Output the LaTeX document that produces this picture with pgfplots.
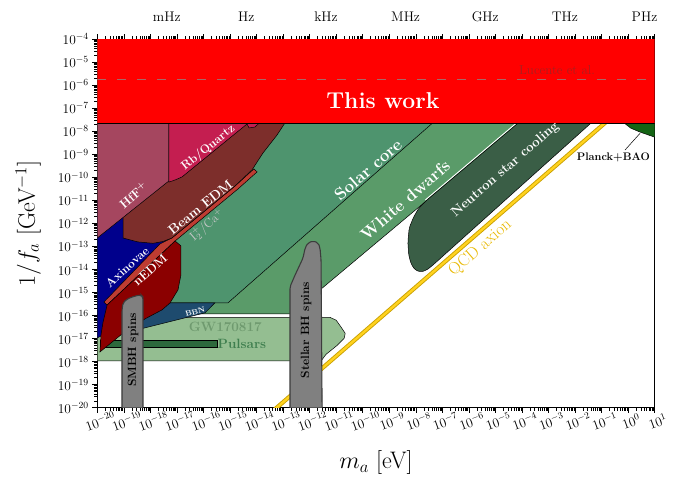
\RequirePackage{fix-cm}
\documentclass[border=0pt]{standalone}
\usepackage{pgfplots}
\pgfplotsset{compat=1.18}

\definecolor{thiswork}{HTML}{FF0000}
\definecolor{hff}{HTML}{A5465F}
\definecolor{rbq}{HTML}{C41E50}
\definecolor{beam}{HTML}{7D2E2B}
\definecolor{ica}{HTML}{BE3C32}
\definecolor{axn}{HTML}{00008C}
\definecolor{nedm}{HTML}{8B0000}
\definecolor{solar}{HTML}{4E946E}
\definecolor{wd}{HTML}{5A9B69}
\definecolor{ns}{HTML}{3A5E46}
\definecolor{bbn}{HTML}{1E4B6E}
\definecolor{gw}{HTML}{94BE91}
\definecolor{psr}{HTML}{2D693C}
\definecolor{bh}{HTML}{808080}
\definecolor{bhedge}{HTML}{3C3C3C}
\definecolor{planck}{HTML}{146414}
\definecolor{qcdin}{HTML}{FFD21E}
\definecolor{qcdout}{HTML}{C9A000}
\definecolor{qcdtxt}{HTML}{E8B800}
\definecolor{lucline}{HTML}{A86868}
\definecolor{luctxt}{HTML}{A82020}
\definecolor{gwtxt}{HTML}{6F9A6F}
\definecolor{psrtxt}{HTML}{3F7F4F}
\definecolor{icatxt}{HTML}{C8C8C8}

% axes are in log10 units; minor ticks at log10(2..9)
\def\mx{-30}
\foreach \dd in {-20,...,0}{\foreach \mm in {0.30103,0.47712,0.60206,0.69897,0.77815,0.84510,0.90309,0.95424}{%
  \pgfmathsetmacro\vv{\dd+\mm}\xdef\mx{\mx,\vv}}}
\def\my{-30}
\foreach \dd in {-20,...,-5}{\foreach \mm in {0.30103,0.47712,0.60206,0.69897,0.77815,0.84510,0.90309,0.95424}{%
  \pgfmathsetmacro\vv{\dd+\mm}\xdef\my{\my,\vv}}}

\newcommand\fs[1]{\fontsize{#1}{#1}\selectfont}
\tikzset{freq/.style={anchor=base, font=\fs{14}, yshift=17.6bp}}

\begin{document}
\begin{tikzpicture}
\begin{axis}[
  name=ax,
  scale only axis,
  width=557.4bp, height=368.4bp,
  xmin=-20, xmax=1, ymin=-20, ymax=-4,
  clip mode=individual,
  xtick={-20,...,1}, ytick={-20,...,-4},
  minor xtick/.expanded=\mx, minor ytick/.expanded=\my,
  xtick pos=both, ytick pos=left, xticklabel pos=left,
  tick align=outside,
  major tick length=5bp, minor tick length=2.8bp,
  every tick/.style={black, line width=0.5pt},
  axis line style={line width=1.1pt},
  xticklabel={$10^{\pgfmathprintnumber{\tick}}$},
  yticklabel={$10^{\pgfmathprintnumber{\tick}}$},
  tick label style={font=\fs{13.5}},
  xticklabel style={rotate=20, anchor=north},
  xlabel={$m_a$ [eV]}, ylabel={$1/f_a$ [GeV$^{-1}$]},
  label style={font=\fs{24}},
  xlabel style={at={(axis description cs:0.5,-0.149)}, anchor=center},
  ylabel style={at={(axis description cs:-0.124,0.5)}, anchor=center},
  region/.style={draw=black, line width=0.5pt},
]

% White dwarfs
\addplot[region, fill=wd] table[row sep=\\]{x y\\ -20 -15.93\\ -12.69 -15.93\\ -0.34 -4\\ -20 -4\\} -- cycle;
% Solar core
\addplot[region, fill=solar] table[row sep=\\]{x y\\ -20 -15.45\\ -15.08 -15.45\\ -3.78 -4\\ -20 -4\\} -- cycle;
% Neutron star cooling
\addplot[white, line width=1pt] coordinates {(-2.47,-6) (-4.25,-7.68) (-7.64,-10.98)};
\addplot[region, fill=ns, rounded corners=2bp] table[row sep=\\]{x y\\
 -2.41 -6\\ -4.19 -7.68\\ -7.58 -10.98\\ -7.90 -11.35\\ -8.10 -11.76\\ -8.25 -12.20\\
 -8.30 -12.80\\ -8.27 -13.35\\ -8.18 -13.75\\ -8.02 -14.03\\ -7.80 -14.10\\ -7.60 -14.03\\
 -7.35 -13.80\\ -1.44 -7.68\\ 0.20 -6\\} -- cycle;
% QCD axion
\addplot[qcdout, line width=4.2pt] coordinates {(-13.40,-20.16) (-0.40,-7.16)};
\addplot[qcdin, line width=2.4pt] coordinates {(-13.40,-20.16) (-0.40,-7.16)};
% Planck+BAO
\addplot[region, fill=planck] table[row sep=\\]{x y\\ -0.19 -7.60\\ 0.10 -7.86\\ 0.45 -8.03\\ 0.75 -8.15\\ 1.05 -8.27\\ 1.05 -7.60\\} -- cycle;
% GW170817
\addplot[region, fill=gw] table[row sep=\\]{x y\\
 -20 -16.08\\ -11.23 -16.08\\ -11.00 -16.20\\ -10.81 -16.51\\ -10.66 -16.77\\ -10.70 -16.99\\
 -10.96 -17.29\\ -11.38 -17.68\\ -11.57 -17.97\\ -20 -17.97\\} -- cycle;
% Pulsars
\addplot[region, fill=psr] table[row sep=\\]{x y\\ -19.9 -17.06\\ -15.49 -17.06\\ -15.49 -17.36\\ -19.9 -17.36\\} -- cycle;
% BBN
\addplot[region, fill=bbn] table[row sep=\\]{x y\\ -19.14 -15.45\\ -15.57 -15.45\\ -15.94 -15.88\\ -18.20 -16.53\\ -19.14 -16.80\\} -- cycle;
% Axinovae
\addplot[region, fill=axn] table[row sep=\\]{x y\\ -20 -10.98\\ -17.30 -10.98\\ -17.30 -12.65\\ -17.52 -12.84\\ -19.44 -16.64\\ -20 -16.97\\} -- cycle;
% I2+/Ca+
\addplot[region, fill=ica] table[row sep=\\]{x y\\
 -19.75 -15.41\\ -17.64 -12.89\\ -17.19 -12.63\\ -14.81 -10.37\\ -14.10 -9.63\\
 -13.98 -9.76\\ -14.70 -10.50\\ -17.07 -12.76\\ -19.63 -15.54\\} -- cycle;
% Beam EDM
\addplot[region, fill=beam] table[row sep=\\]{x y\\
 -19.03 -7.07\\ -19.03 -12.63\\ -18.47 -12.80\\ -17.90 -12.86\\ -17.52 -12.78\\ -17.19 -12.63\\
 -14.81 -10.37\\ -14.17 -9.67\\ -13.76 -8.94\\ -13.23 -8.16\\ -12.93 -7.63\\ -12.74 -7.07\\} -- cycle;
% HfF+
\addplot[region, fill=hff] table[row sep=\\]{x y\\ -20 -7.07\\ -20 -12.63\\ -17.30 -10.15\\ -17.30 -7.07\\} -- cycle;
% Rb/Quartz
\addplot[region, fill=rbq] table[row sep=\\]{x y\\
 -17.30 -7.07\\ -17.30 -10.20\\ -17.07 -10.11\\ -16.81 -9.98\\ -14.36 -7.68\\
 -14.28 -7.85\\ -14.06 -7.81\\ -13.94 -7.68\\ -13.94 -7.07\\} -- cycle;
% nEDM
\addplot[region, fill=nedm] table[row sep=\\]{x y\\
 -19.63 -15.54\\ -17.07 -12.76\\ -16.85 -12.97\\ -16.85 -14.24\\ -16.96 -14.88\\ -17.26 -15.45\\
 -17.56 -15.75\\ -18.20 -16.14\\ -19.07 -16.80\\ -19.90 -17.58\\ -19.86 -16.84\\ -19.79 -16.32\\} -- cycle;
% SMBH spins
\addplot[draw=bhedge, line width=1.1pt, fill=bh, rounded corners=2bp] table[row sep=\\]{x y\\
 -19.07 -20.2\\ -19.07 -15.75\\ -19.03 -15.45\\ -18.88 -15.28\\ -18.58 -15.15\\ -18.35 -15.10\\
 -18.28 -15.19\\ -18.28 -20.2\\} -- cycle;
% Stellar BH spins
\addplot[draw=bhedge, line width=1.1pt, fill=bh, rounded corners=2bp] table[row sep=\\]{x y\\
 -12.74 -20.2\\ -12.74 -14.75\\ -12.55 -14.24\\ -12.25 -13.50\\ -12.17 -13.06\\ -12.06 -12.84\\
 -11.87 -12.76\\ -11.68 -12.84\\ -11.61 -13.06\\ -11.57 -13.58\\ -11.53 -20.2\\} -- cycle;
% This work
\addplot[draw=black, line width=0.8pt, fill=thiswork] table[row sep=\\]{x y\\ -20.5 -7.65\\ 1.5 -7.65\\ 1.5 -3.5\\ -20.5 -3.5\\} -- cycle;
% Lucente et al.
\addplot[lucline, line width=0.7pt, dash pattern=on 9bp off 11bp] coordinates {(-20,-5.72) (1,-5.72)};

% labels
\node[white, font=\fs{23}\bfseries] at (-9.24,-6.68) {This work};
\node[luctxt, font=\fs{13}] at (-2.68,-5.33) {Lucente et al.};
\node[white, font=\fs{12.5}\bfseries, rotate=41] at (-18.65,-10.77) {HfF\textsuperscript{+}};
\node[white, font=\fs{12}\bfseries, rotate=39] at (-15.82,-8.72) {Rb/Quartz};
\node[white, font=\fs{13.5}\bfseries, rotate=39] at (-16.12,-11.29) {Beam EDM};
\node[icatxt, font=\fs{12.5}, rotate=41] at (-15.86,-12.07) {I$_2^+$/Ca$^+$};
\node[white, font=\fs{12}\bfseries, rotate=42] at (-18.88,-13.89) {Axinovae};
\node[white, font=\fs{12.5}\bfseries, rotate=42] at (-18.01,-14.01) {nEDM};
\node[white, font=\fs{7.5}\bfseries, rotate=15] at (-16.31,-15.83) {BBN};
\node[gwtxt, font=\fs{13.5}\bfseries] at (-15.18,-16.49) {GW170817};
\node[psrtxt, font=\fs{13.5}\bfseries] at (-14.55,-17.23) {Pulsars};
\node[black, font=\fs{12}\bfseries, rotate=90] at (-18.65,-17.49) {SMBH spins};
\node[black, font=\fs{12}\bfseries, rotate=90] at (-12.13,-16.63) {Stellar BH spins};
\node[white, font=\fs{17}\bfseries, rotate=41] at (-9.80,-9.67) {Solar core};
\node[white, font=\fs{17}\bfseries, rotate=41] at (-8.40,-10.98) {White dwarfs};
\node[white, font=\fs{13.5}\bfseries, rotate=41] at (-4.63,-9.67) {Neutron star cooling};
\node[qcdtxt, font=\fs{17}, rotate=41] at (-5.57,-13.07) {QCD axion};
\node[black, font=\fs{11}\bfseries] at (-0.56,-9.12) {Planck+BAO};
\draw[black, line width=0.5pt] (-0.12,-8.81) -- (0.45,-8.08);

% frequency labels on the top edge
\node[freq] at (-17.383,-4) {mHz};
\node[freq] at (-14.383,-4) {Hz};
\node[freq] at (-11.383,-4) {kHz};
\node[freq] at (-8.383,-4) {MHz};
\node[freq] at (-5.383,-4) {GHz};
\node[freq] at (-2.383,-4) {THz};
\node[freq] at (0.617,-4) {PHz};
\end{axis}
\pgfresetboundingbox
\path (ax.south west) ++(-97.3bp,-73.3bp) rectangle ++(675bp,481bp);
\end{tikzpicture}
\end{document}
